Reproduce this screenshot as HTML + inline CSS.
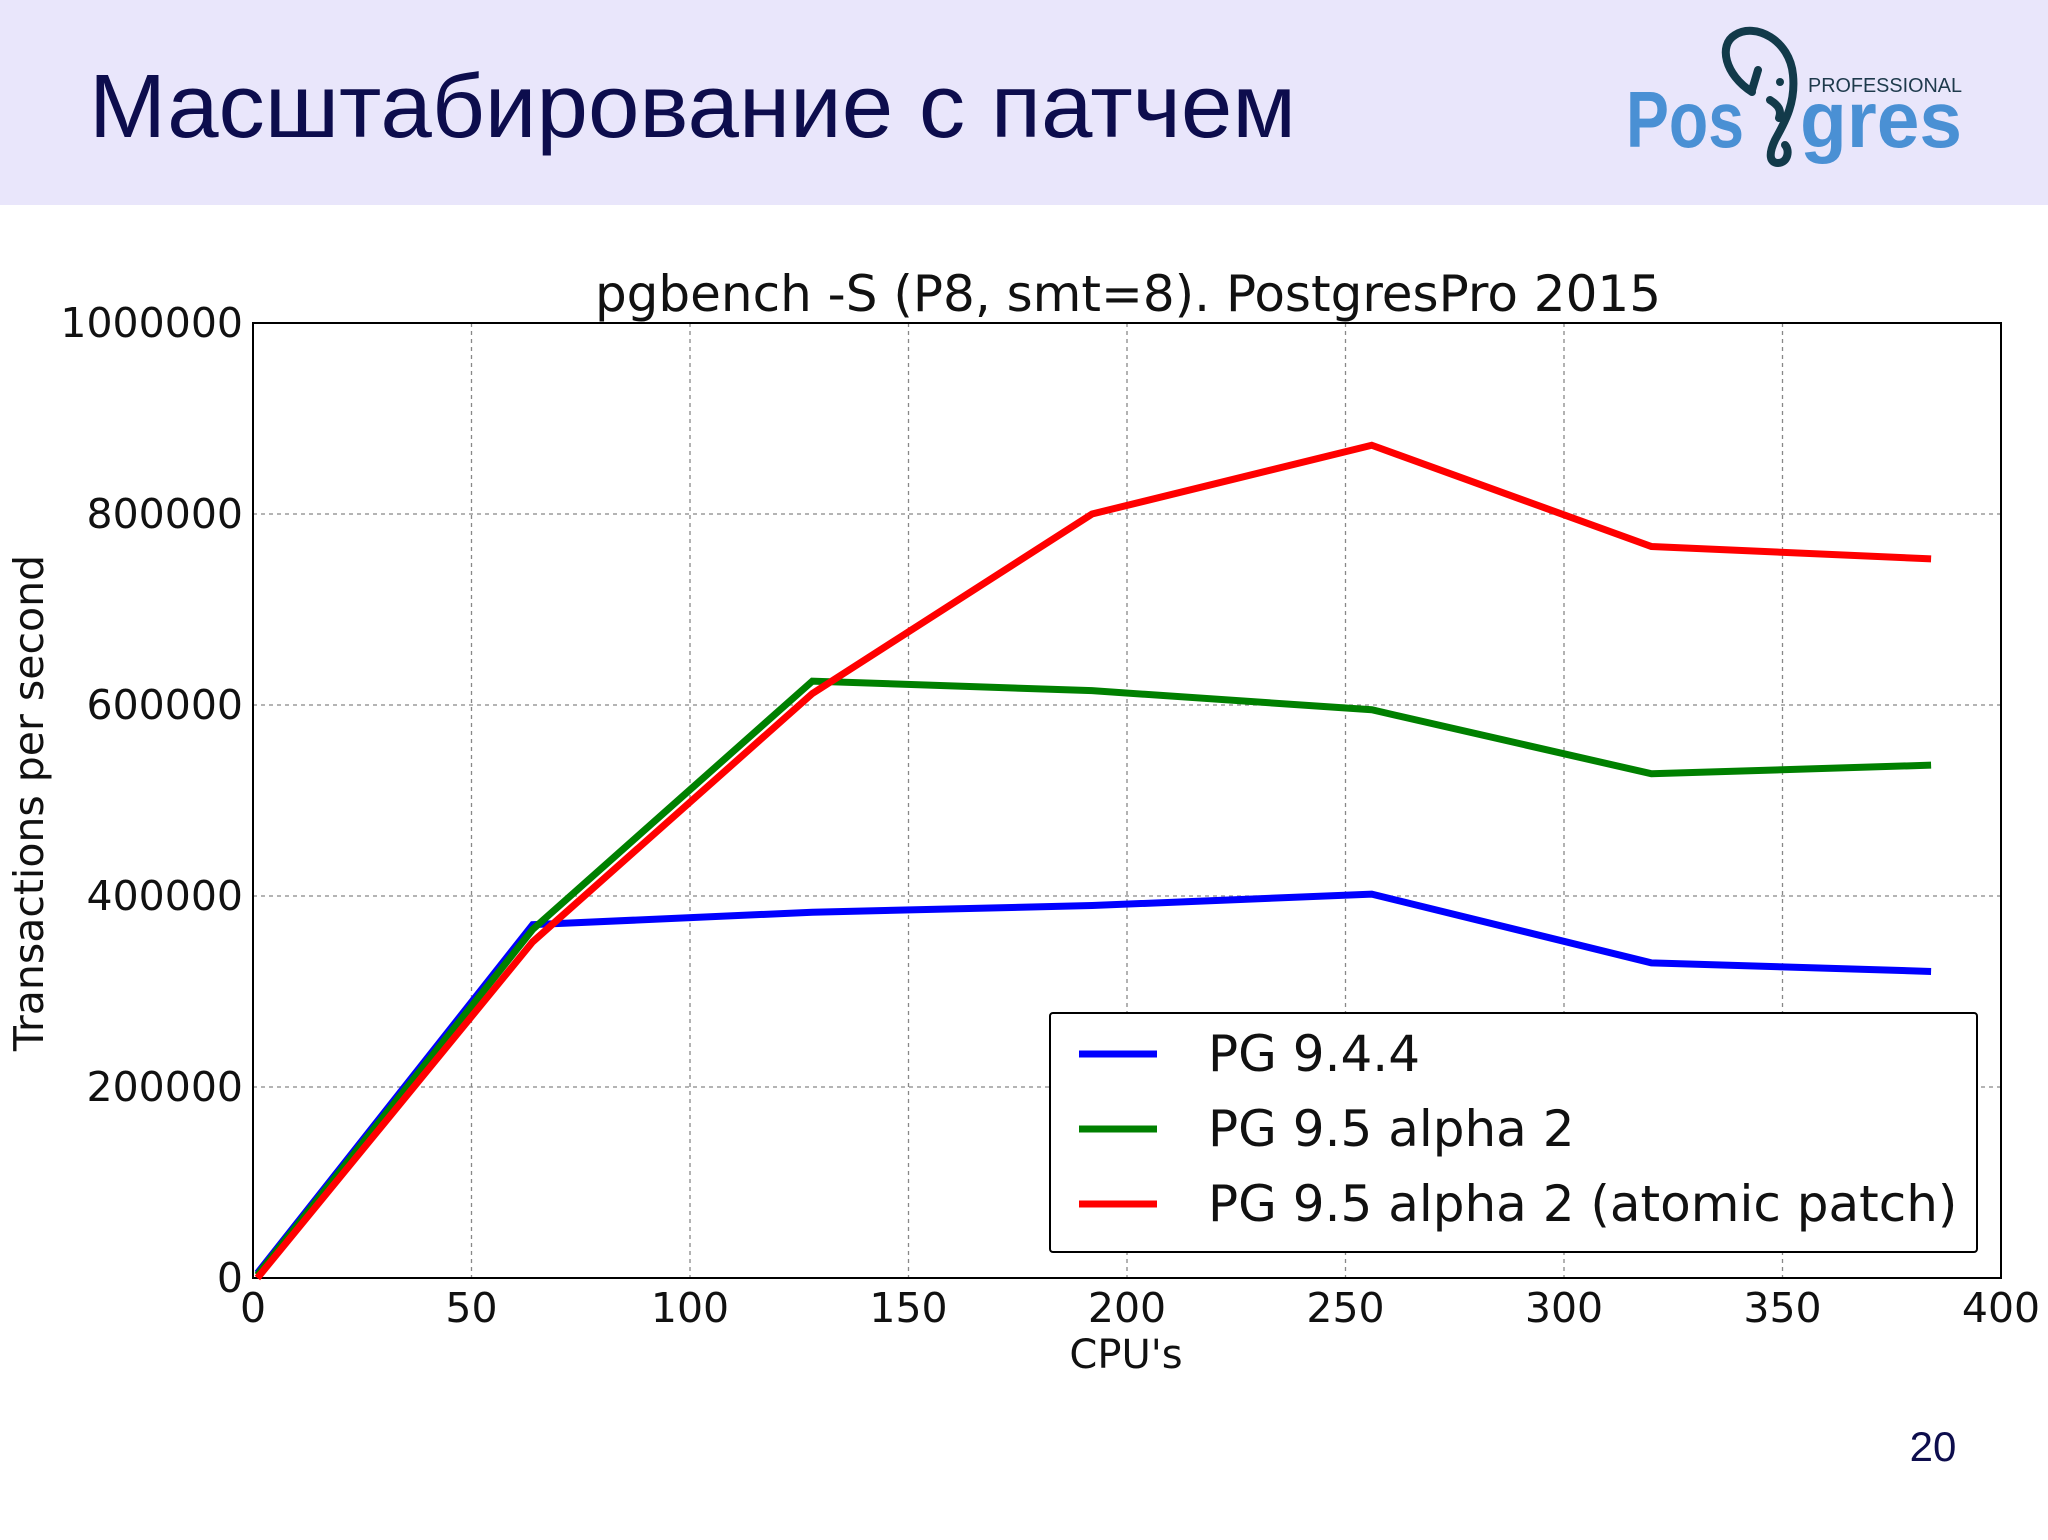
<!DOCTYPE html>
<html><head><meta charset="utf-8"><style>
html,body{margin:0;padding:0;background:#fff;}
body{width:2048px;height:1535px;overflow:hidden;position:relative;font-family:"Liberation Sans","DejaVu Sans",sans-serif;}
</style></head><body>
<svg width="2048" height="1535" xmlns="http://www.w3.org/2000/svg">
<rect x="0" y="0" width="2048" height="205" fill="#e9e6fb"/>
<text x="89" y="137" font-family="Liberation Sans, sans-serif" font-size="90" fill="#0d0d4d" textLength="1207" lengthAdjust="spacingAndGlyphs">Масштабирование с патчем</text>
<g>
<text x="1626" y="147" font-family="Liberation Sans, sans-serif" font-size="80" font-weight="bold" fill="#4a90d4" textLength="118" lengthAdjust="spacingAndGlyphs">Pos</text>
<text x="1800" y="147" font-family="Liberation Sans, sans-serif" font-size="80" font-weight="bold" fill="#4a90d4" textLength="162" lengthAdjust="spacingAndGlyphs">gres</text>
<text x="1808" y="92" font-family="Liberation Sans, sans-serif" font-size="20" fill="#1e3a4c" textLength="154" lengthAdjust="spacingAndGlyphs">PROFESSIONAL</text>
<path d="M1752,92 C1725,75 1718,45 1735,35 C1755,22 1790,40 1793,75 C1796,105 1783,125 1775,140 C1768,155 1770,163 1778,163 C1788,163 1790,150 1785,145 M1758,70 L1752,90 M1770,100 C1778,105 1782,110 1779,118" fill="none" stroke="#123a4a" stroke-width="8" stroke-linecap="round"/>
<circle cx="1780" cy="82" r="4" fill="#123a4a"/>
</g>
<g id="chart"></g>
<text x="1933" y="1461" font-family="Liberation Sans, sans-serif" font-size="42" fill="#0d0d4d" text-anchor="middle">20</text>
</svg>
<script>
const xTicks=[0,50,100,150,200,250,300,350,400];
const yTicks=[0,200000,400000,600000,800000,1000000];
const cpus=[1,64,128,192,256,320,384];
const pg944=[5000,370000,383000,390000,402000,330000,321000];
const pg95a2=[3000,365000,625000,615000,595000,528000,537000];
const pg95atomic=[0,352000,612000,800000,872000,766000,753000];
const seriesNames=["PG 9.4.4","PG 9.5 alpha 2","PG 9.5 alpha 2 (atomic patch)"];
const NS="http://www.w3.org/2000/svg";
const L=253,R=2001,T=323,B=1278;
const sx=v=>L+(v-0)/(400-0)*(R-L);
const sy=v=>B-(v-0)/(1000000-0)*(B-T);
const g=document.getElementById('chart');
function mk(tag,attrs,parent){const e=document.createElementNS(NS,tag);for(const k in attrs)e.setAttribute(k,attrs[k]);(parent||g).appendChild(e);return e;}
const F='DejaVu Sans, Liberation Sans, sans-serif';
xTicks.forEach(t=>{
 if(t>0&&t<400){const l=mk('line',{x1:sx(t),x2:sx(t),y1:T,y2:B,stroke:'#888','stroke-width':1.3,'stroke-dasharray':'4,4'});
 
 }
 const tx=mk('text',{x:sx(t),y:B+44,'font-family':F,'font-size':41,'text-anchor':'middle',fill:'#111'});tx.textContent=t;
 
 
});
yTicks.forEach(t=>{
 if(t>0&&t<1000000){const l=mk('line',{x1:L,x2:R,y1:sy(t),y2:sy(t),stroke:'#888','stroke-width':1.3,'stroke-dasharray':'4,4'});
 
 }
 const tx=mk('text',{x:L-10,y:sy(t)+14,'font-family':F,'font-size':41,'text-anchor':'end',fill:'#111'});tx.textContent=t;
 
 
});
const frame=mk('rect',{x:L,y:T,width:R-L,height:B-T,fill:'none',stroke:'#000','stroke-width':2});


const colors=['#0000ff','#008000','#ff0000'];
const names=['line-pg-9-4-4','line-pg-9-5-alpha2','line-pg-9-5-atomic-patch'];
[pg944,pg95a2,pg95atomic].forEach((s,i)=>{
 const p=mk('polyline',{points:s.map((v,j)=>sx(cpus[j])+','+sy(v)).join(' '),fill:'none',stroke:colors[i],'stroke-width':7,'stroke-linejoin':'miter'});
 
 
});
const tt=mk('text',{x:1128,y:311,'font-family':F,'font-size':50,'text-anchor':'middle',fill:'#111'});tt.textContent='pgbench -S (P8, smt=8). PostgresPro 2015';


const xl=mk('text',{x:1126,y:1368,'font-family':F,'font-size':40,'text-anchor':'middle',fill:'#111'});xl.textContent="CPU's";


const yl=mk('text',{x:0,y:0,'font-family':F,'font-size':41,'text-anchor':'middle',fill:'#111',transform:'translate(43,803) rotate(-90)'});yl.textContent='Transactions per second';


const lg=mk('rect',{x:1050,y:1013,width:927,height:239,fill:'#fff',stroke:'#000','stroke-width':2,rx:3});


seriesNames.forEach((n,i)=>{
 const y=1054+i*75;
 const ln=mk('line',{x1:1079,x2:1157,y1:y,y2:y,stroke:colors[i],'stroke-width':7});
 
 
 const tx=mk('text',{x:1208,y:y+17,'font-family':F,'font-size':50,fill:'#111'});tx.textContent=n;
 
 
});
</script>
</body></html>
